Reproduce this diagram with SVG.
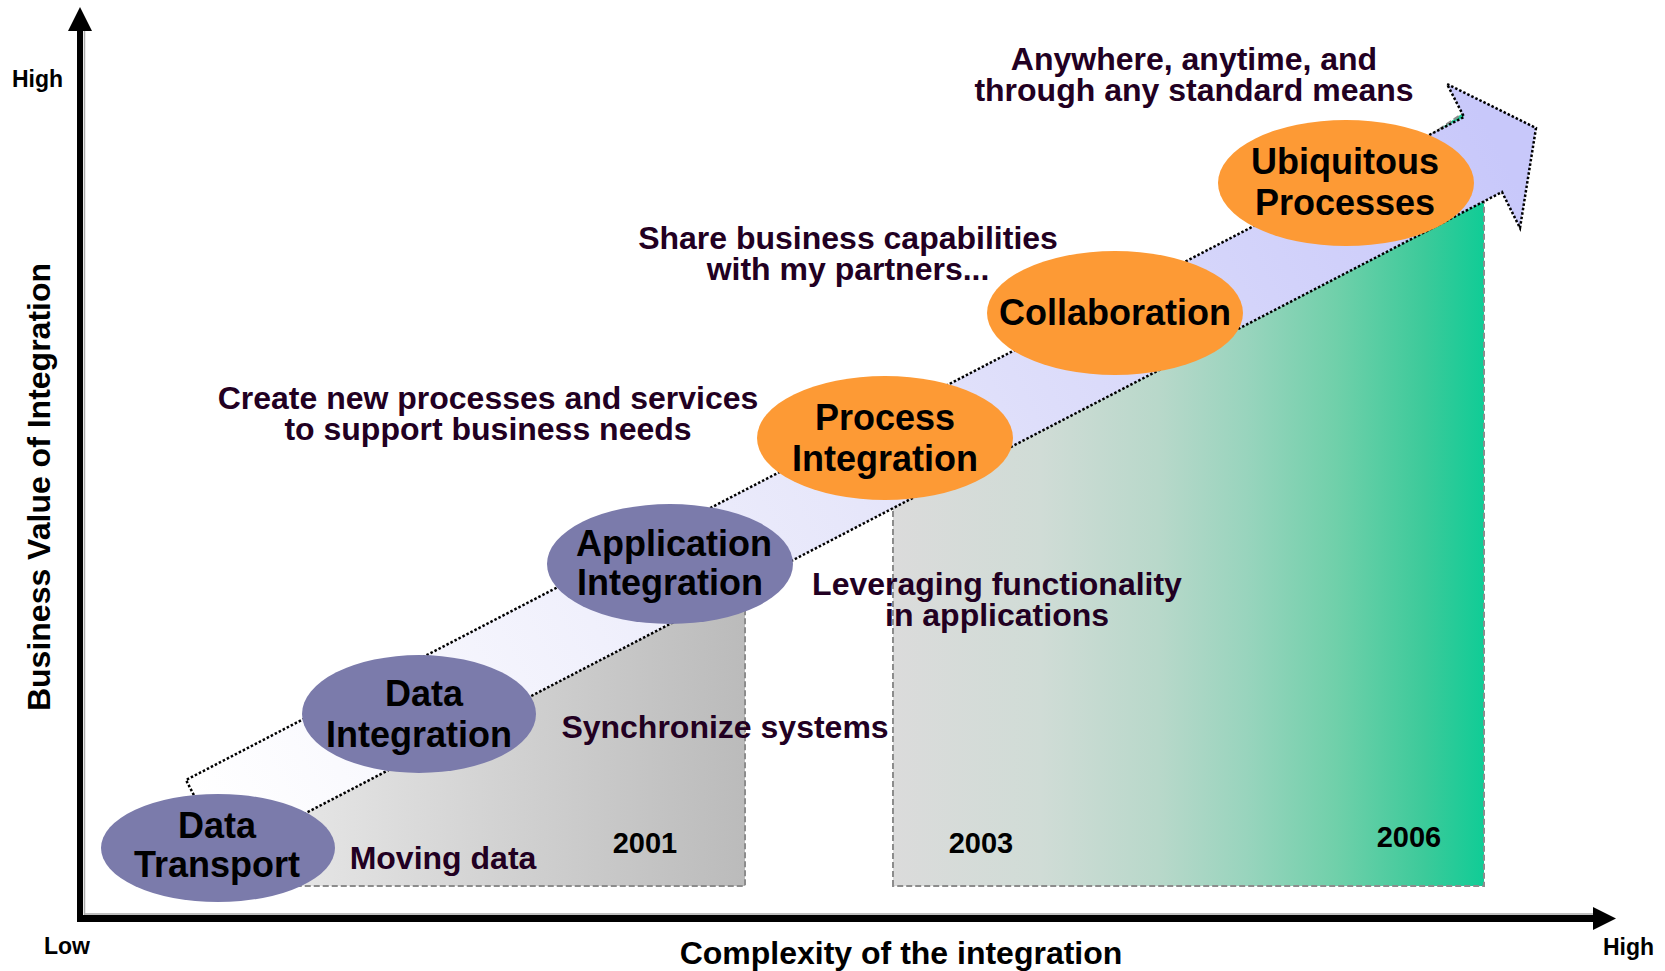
<svg xmlns="http://www.w3.org/2000/svg" width="1665" height="971" viewBox="0 0 1665 971">
<defs>
<linearGradient id="gGray" gradientUnits="userSpaceOnUse" x1="290" y1="0" x2="745" y2="0">
<stop offset="0" stop-color="#e6e6e6"/><stop offset="1" stop-color="#bbbbbb"/>
</linearGradient>
<linearGradient id="gGreen" gradientUnits="userSpaceOnUse" x1="893" y1="0" x2="1484" y2="0">
<stop offset="0" stop-color="#dbdbdb"/><stop offset="0.25" stop-color="#d0dcd6"/><stop offset="0.45" stop-color="#b8d8ca"/><stop offset="0.6" stop-color="#98d4bd"/><stop offset="0.75" stop-color="#70d0aa"/><stop offset="0.9" stop-color="#3cca9a"/><stop offset="1" stop-color="#10cc96"/>
</linearGradient>
<linearGradient id="gBand" gradientUnits="userSpaceOnUse" x1="200" y1="820" x2="1500" y2="150">
<stop offset="0" stop-color="#ffffff"/><stop offset="0.5" stop-color="#e6e6fa"/><stop offset="1" stop-color="#c8c8fa"/>
</linearGradient>
<style>
text{font-family:"Liberation Sans",Arial,sans-serif;font-weight:bold}
.lbl{font-size:32px;fill:#220022;text-anchor:middle}
.nd{font-size:36px;fill:#000;text-anchor:middle}
.yr{font-size:29px;fill:#000;text-anchor:middle}
.ax{font-size:32px;fill:#000;text-anchor:middle}
.tk{font-size:23px;fill:#000}
.area{stroke:#8c8c8c;stroke-width:2;stroke-dasharray:6 3}
.purple{fill:#7b7bab}
.orange{fill:#fd9a35}
</style>
</defs>
<rect width="1665" height="971" fill="#fff"/>

<g id="areas">
<polygon class="area" fill="url(#gGray)" points="250,886 250,840 745,583 745,886"/>
<polygon class="area" fill="url(#gGreen)" points="893,886 893,504 1463,113 1484,113 1484,886"/>
</g>

<g id="connectors">
<polygon id="band" points="225,855 186,780 1464,117 1447,84 1536,128 1520,228 1502,192" fill="url(#gBand)" stroke="#000" stroke-width="2.5" stroke-dasharray="2.5 2"/>
<g id="axes">
<line x1="84.5" y1="30" x2="84.5" y2="915" stroke="#aaa" stroke-width="1.5"/>
<line x1="84" y1="914" x2="1593" y2="914" stroke="#aaa" stroke-width="1.5"/>
<line x1="80" y1="28" x2="80" y2="922" stroke="#000" stroke-width="6"/>
<polygon points="68,31 80,7 92,31" fill="#000"/>
<line x1="77" y1="918.5" x2="1595" y2="918.5" stroke="#000" stroke-width="7"/>
<polygon points="1593,907 1616,918.5 1593,930" fill="#000"/>
</g>
</g>

<g id="n-data-transport">
<ellipse class="purple" cx="218" cy="848" rx="117" ry="54"/>
<text class="nd" x="217" y="838">Data</text>
<text class="nd" x="217" y="877">Transport</text>
</g>
<g id="n-data-integration">
<ellipse class="purple" cx="419" cy="714" rx="117" ry="59"/>
<text class="nd" x="424" y="706">Data</text>
<text class="nd" x="419" y="747">Integration</text>
</g>
<g id="n-application-integration">
<ellipse class="purple" cx="670" cy="564" rx="123" ry="60"/>
<text class="nd" x="674" y="556">Application</text>
<text class="nd" x="670" y="595">Integration</text>
</g>
<g id="n-process-integration">
<ellipse class="orange" cx="885" cy="438" rx="128" ry="62"/>
<text class="nd" x="885" y="430">Process</text>
<text class="nd" x="885" y="471">Integration</text>
</g>
<g id="n-collaboration">
<ellipse class="orange" cx="1115" cy="313" rx="128" ry="62"/>
<text class="nd" x="1115" y="325">Collaboration</text>
</g>
<g id="n-ubiquitous-processes">
<ellipse class="orange" cx="1346" cy="183" rx="128" ry="63"/>
<text class="nd" x="1345" y="174">Ubiquitous</text>
<text class="nd" x="1345" y="215">Processes</text>
</g>

<g id="labels">
<text class="lbl" x="1194" y="70">Anywhere, anytime, and</text>
<text class="lbl" x="1194" y="101">through any standard means</text>
<text class="lbl" x="848" y="249">Share business capabilities</text>
<text class="lbl" x="848" y="280">with my partners...</text>
<text class="lbl" x="488" y="409">Create new processes and services</text>
<text class="lbl" x="488" y="440">to support business needs</text>
<text class="lbl" x="997" y="595">Leveraging functionality</text>
<text class="lbl" x="997" y="626">in applications</text>
<text class="lbl" x="725" y="738">Synchronize systems</text>
<text class="lbl" x="443" y="869">Moving data</text>
<text class="yr" x="645" y="853">2001</text>
<text class="yr" x="981" y="853">2003</text>
<text class="yr" x="1409" y="847">2006</text>
</g>

<g id="axis-labels">
<text class="tk" x="12" y="87">High</text>
<text class="tk" x="44" y="954">Low</text>
<text class="tk" x="1603" y="955">High</text>
<text class="ax" x="901" y="964">Complexity of the integration</text>
<text class="ax" transform="translate(50,487) rotate(-90)">Business Value of Integration</text>
</g>
</svg>
